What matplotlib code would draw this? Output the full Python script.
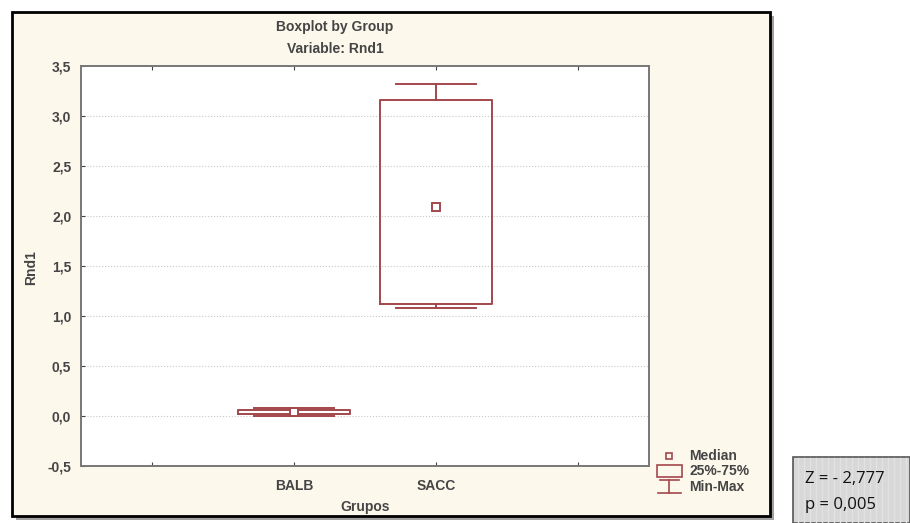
import matplotlib
matplotlib.use("Agg")
from matplotlib import pyplot as plt
from matplotlib.patches import Rectangle
from matplotlib.lines import Line2D

plt.rcParams['font.family'] = ['Liberation Sans', 'DejaVu Sans']

# dados
grupos = ['BALB', 'SACC']
posicoes = [2, 3]
minimos = [0.00, 1.08]
q1 = [0.02, 1.12]
medianas = [0.04, 2.09]
q3 = [0.06, 3.16]
maximos = [0.08, 3.32]
yticks = [-0.5, 0.0, 0.5, 1.0, 1.5, 2.0, 2.5, 3.0, 3.5]

W, H = 910, 523
cor = '#a3474d'
fundo = '#fdf8ec'
txt = '#454545'
fonte = dict(fontsize=10, fontweight='bold', color=txt)


def px(x, y):
    # pixels (topo-esquerda) -> fracao da figura
    return x / W, 1 - y / H


fig = plt.figure(figsize=(W / 100, H / 100), dpi=100)
fig.patch.set_facecolor('white')

# moldura externa com sombra
x0, y0 = px(12, 516)
fig.add_artist(Rectangle((x0 + 4 / W, y0 - 4 / H), 758 / W, 504 / H,
                         transform=fig.transFigure, facecolor='#a0a0a0', edgecolor='none', zorder=0))
fig.add_artist(Rectangle((x0, y0), 758 / W, 504 / H, transform=fig.transFigure,
                         facecolor=fundo, edgecolor='black', linewidth=2, zorder=1))

ax = fig.add_axes([81 / W, 1 - 466 / H, 568 / W, 400 / H], zorder=2)
ax.set_facecolor('white')

stats = []
for i in range(len(grupos)):
    stats.append({'label': grupos[i], 'whislo': minimos[i], 'q1': q1[i], 'med': medianas[i],
                  'q3': q3[i], 'whishi': maximos[i]})

ax.bxp(stats, positions=posicoes, widths=0.79, capwidths=0.57, showfliers=False,
       boxprops=dict(color=cor, linewidth=1.4),
       whiskerprops=dict(color=cor, linewidth=1.4),
       capprops=dict(color=cor, linewidth=1.4),
       medianprops=dict(linestyle='none'))
ax.plot(posicoes, medianas, linestyle='none', marker='s', markersize=5.5,
        markerfacecolor='white', markeredgecolor=cor, markeredgewidth=1.4, zorder=5)

ax.set_xlim(0.5, 4.5)
ax.set_ylim(-0.5, 3.5)
ax.set_xticks([1, 2, 3, 4])
ax.set_xticklabels(['', 'BALB', 'SACC', ''], **fonte)
ax.set_yticks(yticks)
ax.set_yticklabels([('%.1f' % v).replace('.', ',') for v in yticks], **fonte)
ax.tick_params(direction='in', length=3, color='#444', top=True, right=False)
ax.tick_params(axis='x', pad=9)
ax.tick_params(axis='y', pad=7)
for v in yticks[1:-1]:
    ax.axhline(v, color='#c8c8c8', linestyle=':', linewidth=0.8, zorder=0)
for s in ax.spines.values():
    s.set_color('#777')
    s.set_linewidth(1.4)

fig.text(*px(31, 268), 'Rnd1', rotation=90, ha='center', va='center', **fonte)
fig.text(*px(365, 507), 'Grupos', ha='center', va='center', **fonte)
fig.text(*px(335, 27), 'Boxplot by Group', ha='center', va='center', **fonte)
fig.text(*px(335, 49), 'Variable: Rnd1', ha='center', va='center', **fonte)


# legenda
def ret(x, y, w, h):
    a, b = px(x, y + h)
    fig.add_artist(Rectangle((a, b), w / W, h / H, transform=fig.transFigure,
                             facecolor='none', edgecolor=cor, linewidth=1.2, zorder=3))


def linha(xs, ys):
    fx = [x / W for x in xs]
    fy = [1 - y / H for y in ys]
    fig.add_artist(Line2D(fx, fy, transform=fig.transFigure, color=cor, linewidth=1.2, zorder=3))


ret(666, 453, 6, 6)
ret(657, 465, 25, 12)
linha([669, 669], [480, 493])
linha([660, 679], [480, 480])
linha([658, 681], [493, 493])
fig.text(*px(689, 456), 'Median', va='center', **fonte)
fig.text(*px(689, 471), '25%-75%', va='center', **fonte)
fig.text(*px(689, 487), 'Min-Max', va='center', **fonte)

# caixa com estatistica
bx, by = px(793, 523)
fig.add_artist(Rectangle((bx, by), 117 / W, 66 / H, transform=fig.transFigure,
                         facecolor='#d8d8d8', edgecolor='#555', linewidth=1.2, zorder=1))
for xs in range(798, 910, 6):
    fig.add_artist(Line2D([xs / W, xs / W], [by + 1 / H, by + 65 / H], transform=fig.transFigure,
                          color='#e2e2e2', linewidth=1, zorder=2))
fig.text(*px(805, 479), 'Z = - 2,777', va='center', fontsize=12, color='#111',
         family=['Open Sans', 'DejaVu Sans'], zorder=4)
fig.text(*px(805, 505), 'p = 0,005', va='center', fontsize=12, color='#111',
         family=['Open Sans', 'DejaVu Sans'], zorder=4)

fig.savefig('out.png', dpi=100, facecolor='white')
